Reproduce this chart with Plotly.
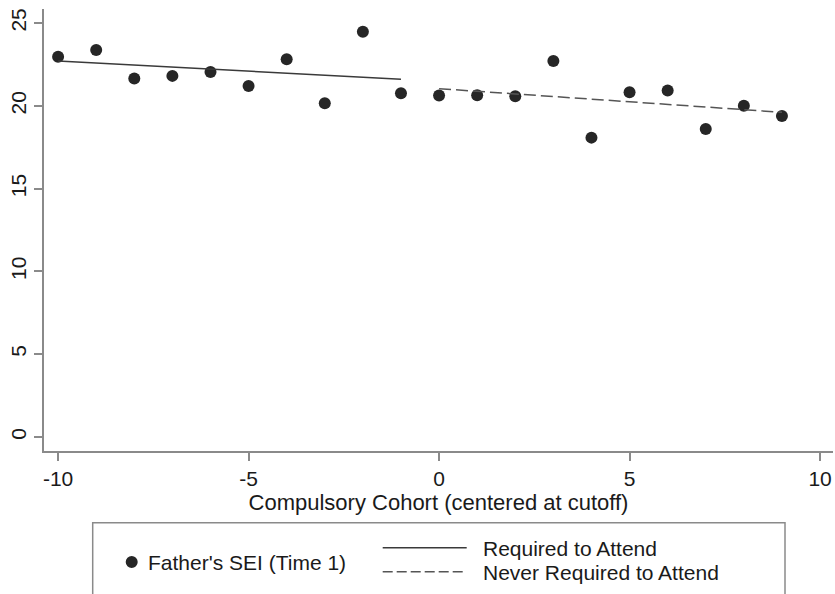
import plotly.graph_objects as go

# Data
cohort = [-10, -9, -8, -7, -6, -5, -4, -3, -2, -1, 0, 1, 2, 3, 4, 5, 6, 7, 8, 9]
father_sei = [22.97, 23.38, 21.65, 21.81, 22.05, 21.2, 22.82, 20.16, 24.47, 20.76,
              20.62, 20.64, 20.58, 22.71, 18.08, 20.82, 20.92, 18.6, 20.01, 19.39]
fit_required_x = [-10, -1]
fit_required_y = [22.71, 21.61]
fit_never_x = [0, 9]
fit_never_y = [21.04, 19.61]

x_ticks = [-10, -5, 0, 5, 10]
x_tick_labels = ["-10", "-5", "0", "5", "10"]
y_ticks = [0, 5, 10, 15, 20, 25]
y_tick_labels = ["0", "5", "10", "15", "20", "25"]

FONT = "Liberation Sans, Arial, sans-serif"
AXIS_GRAY = "#8a8a8a"

fig = go.Figure()
fig.add_trace(go.Scatter(x=cohort, y=father_sei, mode="markers",
                         marker=dict(size=12, color="#262626"),
                         name="Father's SEI (Time 1)", showlegend=False))
fig.add_trace(go.Scatter(x=fit_required_x, y=fit_required_y, mode="lines",
                         line=dict(color="#3a3a3a", width=1.5),
                         name="Required to Attend", showlegend=False))
fig.add_trace(go.Scatter(x=fit_never_x, y=fit_never_y, mode="lines",
                         line=dict(color="#555555", width=1.5, dash="12px,5px"),
                         name="Never Required to Attend", showlegend=False))

L, R, T, B = 44, 2, 9, 143
W, H = 835, 594
pw, ph = W - L - R, H - T - B


def px_to_paper(x, y):
    return (x - L) / pw, (H - B - y) / ph


shapes = []
# legend box
x0, y0 = px_to_paper(92.7, 522.7)
x1, y1 = px_to_paper(785, 615)
shapes.append(dict(type="rect", xref="paper", yref="paper", x0=x0, y0=y1, x1=x1, y1=y0,
                   line=dict(color=AXIS_GRAY, width=1.5), fillcolor="rgba(0,0,0,0)"))
# legend marker
cx0, cy0 = px_to_paper(131.7 - 6, 562 - 6)
cx1, cy1 = px_to_paper(131.7 + 6, 562 + 6)
shapes.append(dict(type="circle", xref="paper", yref="paper", x0=cx0, y0=cy1, x1=cx1, y1=cy0,
                   line=dict(width=0), fillcolor="#262626"))
# legend lines
lx0, ly = px_to_paper(382.7, 547.7)
lx1, _ = px_to_paper(466.7, 547.7)
shapes.append(dict(type="line", xref="paper", yref="paper", x0=lx0, y0=ly, x1=lx1, y1=ly,
                   line=dict(color="#3a3a3a", width=1.5)))
_, ly2 = px_to_paper(382.7, 571.7)
shapes.append(dict(type="line", xref="paper", yref="paper", x0=lx0, y0=ly2, x1=lx1, y1=ly2,
                   line=dict(color="#555555", width=1.5, dash="10px,4px")))

annotations = []
for txt, px, py in [("Father's SEI (Time 1)", 145.7, 562),
                    ("Required to Attend", 481, 548),
                    ("Never Required to Attend", 481, 572)]:
    ax, ay = px_to_paper(px, py)
    annotations.append(dict(text=txt, x=ax, y=ay, xref="paper", yref="paper",
                            xanchor="left", yanchor="middle", showarrow=False,
                            font=dict(family=FONT, size=21, color="#1a1a1a")))

fig.update_layout(
    width=W, height=H,
    margin=dict(l=L, r=R, t=T, b=B),
    paper_bgcolor="white", plot_bgcolor="white",
    font=dict(family=FONT, size=21, color="#1a1a1a"),
    shapes=shapes, annotations=annotations,
    showlegend=False,
)
fig.update_xaxes(range=[-10.37, 10.34], tickvals=x_ticks, ticktext=x_tick_labels,
                 showgrid=False, zeroline=False,
                 showline=True, linecolor=AXIS_GRAY, linewidth=2,
                 ticks="outside", ticklen=8, tickcolor=AXIS_GRAY, tickwidth=1.5,
                 tickfont=dict(size=21),
                 title=dict(text="Compulsory Cohort (centered at cutoff)",
                            font=dict(size=22), standoff=0),
                 automargin=True)
fig.update_yaxes(range=[-0.85, 25.85], tickvals=y_ticks, ticktext=y_tick_labels,
                 showgrid=False, zeroline=False,
                 showline=True, linecolor=AXIS_GRAY, linewidth=2,
                 ticks="outside", ticklen=8, tickcolor=AXIS_GRAY, tickwidth=1.5,
                 tickangle=-90, tickfont=dict(size=21), automargin=False)

fig.write_html("out.html", config={"displayModeBar": False},
               post_script="document.body.style.margin='0';document.body.style.overflow='hidden';")
